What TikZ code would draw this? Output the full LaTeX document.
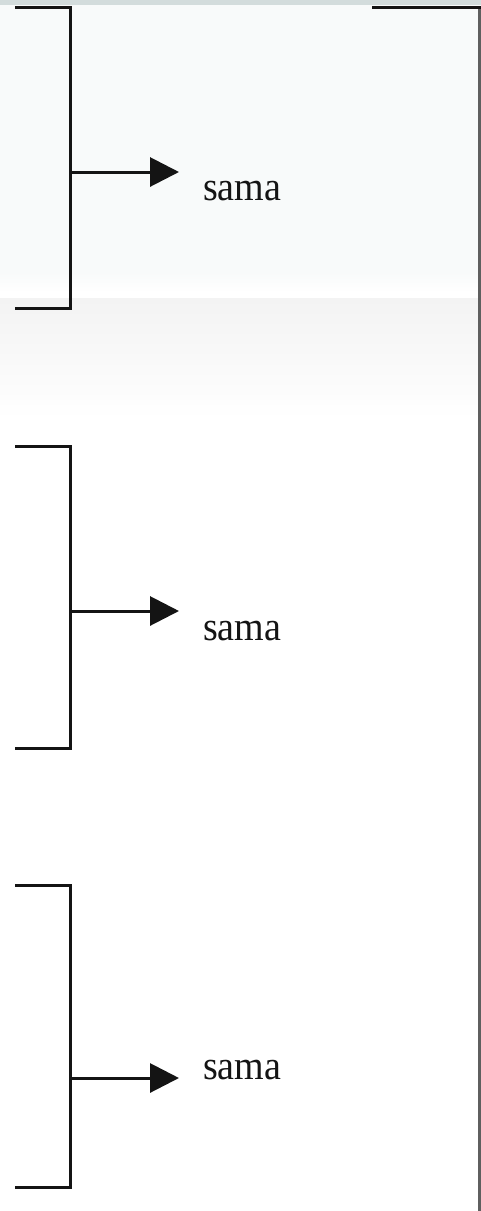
\documentclass[tikz,border=0pt]{standalone}
\usepackage{fontspec}
\setmainfont{Liberation Serif}
\usetikzlibrary{arrows.meta}
\definecolor{bandtop}{HTML}{D3DCDC}
\definecolor{panel}{HTML}{F8FAFA}
\definecolor{fadegray}{HTML}{F3F3F3}
\definecolor{edge}{HTML}{5F5F5F}
\definecolor{ink}{HTML}{141414}
\tikzset{
  bracketline/.style={draw=ink, line width=3pt, line join=miter},
  pointer/.style={draw=ink, line width=3pt, -{Triangle[length=29pt,width=29pt]}},
  word/.style={anchor=base west, inner sep=0pt, text=ink,
               font=\fontsize{38}{41}\selectfont}
}
\begin{document}
\begin{tikzpicture}[x=1pt,y=-1pt]
  \useasboundingbox (0,0) rectangle (481,1211);
  % backdrop
  \fill[white] (0,0) rectangle (481,1211);
  \fill[panel] (0,5) rectangle (481,272);
  \shade[top color=panel, bottom color=white] (0,272) rectangle (481,292);
  \shade[top color=fadegray, bottom color=white] (0,298) rectangle (481,420);
  \fill[bandtop] (0,0) rectangle (481,5);
  % frame edges on the right
  \draw[edge, line width=2.5pt] (479.5,7) -- (479.5,1211);
  \draw[ink, line width=3pt] (372,7) -- (480.5,7);
  % three brackets, each pointing to its label
  \foreach \t/\m/\b/\ty [count=\i] in {7.5/172/308/200.5, 446/611/748/640, 885/1078/1187/1079}{
    \coordinate (top\i) at (15,\t);
    \coordinate (topc\i) at (70,\t);
    \coordinate (botc\i) at (70,\b);
    \coordinate (bot\i) at (15,\b);
    \coordinate (mid\i) at (70,\m);
    \coordinate (tip\i) at (179,\m);
    \draw[bracketline] (top\i) -- (topc\i) -- (botc\i) -- (bot\i);
    \node[word] (txt\i) at (203,\ty) {\scalebox{1}[1.08]{sama}};
    \draw[pointer] (mid\i) -- (tip\i);
  }
\end{tikzpicture}
\end{document}
